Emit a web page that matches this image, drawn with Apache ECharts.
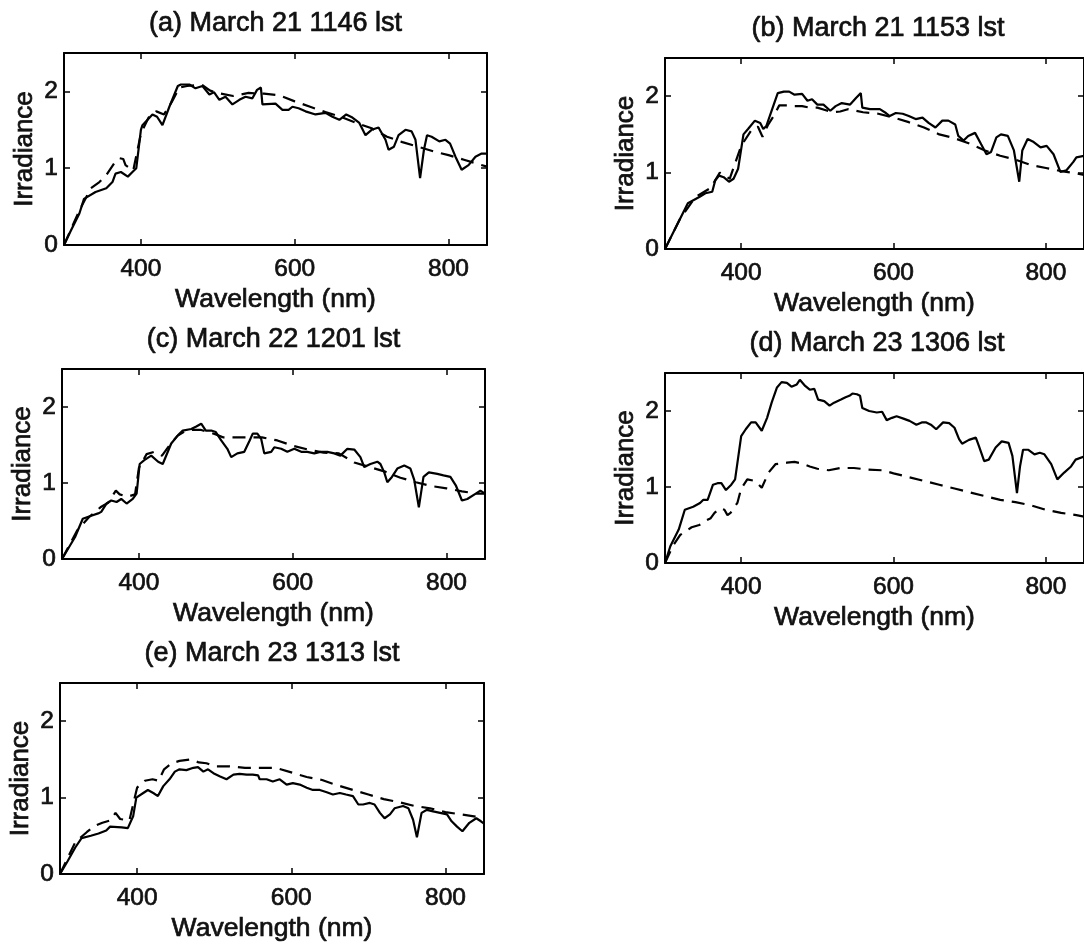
<!DOCTYPE html>
<html>
<head>
<meta charset="utf-8">
<script src="https://cdn.jsdelivr.net/npm/echarts@6/dist/echarts.min.js"></script>
<style>
html,body{margin:0;padding:0;background:#fff;}
#chart{width:1084px;height:946px;}
</style>
</head>
<body>
<div id="chart"></div>
<script>
// ---------- data ----------
const panelTitles = ['(a) March 21 1146 lst', '(b) March 21 1153 lst', '(c) March 22 1201 lst', '(d) March 23 1306 lst', '(e) March 23 1313 lst'];
const xTickValues = [400, 600, 800];
const yTickValues = [0, 1, 2];
const xAxisTitle = 'Wavelength (nm)';
const yAxisTitle = 'Irradiance';

// [wavelength nm, irradiance]
const solidA = [[300,0],[309,0.19],[320,0.41],[326,0.60],[341,0.69],[355,0.74],[363,0.82],[367,0.93],[374,0.95],[383,0.89],[389,0.95],[394,1.0],[400,1.50],[402,1.56],[415,1.70],[421,1.67],[428,1.56],[437,1.80],[448,2.07],[452,2.09],[463,2.09],[471,2.04],[480,2.07],[489,1.96],[495,1.99],[502,1.89],[510,1.93],[519,1.83],[528,1.89],[536,1.93],[545,1.91],[551,2.02],[556,2.05],[558,1.83],[575,1.84],[584,1.76],[592,1.76],[597,1.80],[605,1.78],[614,1.74],[627,1.70],[640,1.72],[649,1.67],[658,1.63],[667,1.70],[675,1.66],[684,1.59],[692,1.43],[700,1.50],[709,1.53],[718,1.37],[722,1.24],[729,1.28],[735,1.43],[744,1.50],[752,1.48],[757,1.37],[763,0.87],[768,1.24],[772,1.43],[778,1.41],[788,1.35],[796,1.37],[802,1.32],[809,1.15],[817,0.98],[826,1.04],[835,1.15],[843,1.19],[850,1.19]];
const dashA = [[300,0],[320,0.45],[335,0.74],[346,0.82],[355,0.91],[365,1.06],[372,1.13],[377,1.12],[380,1.04],[390,0.97],[400,1.45],[410,1.66],[420,1.74],[430,1.70],[440,1.86],[450,2.05],[460,2.07],[470,2.08],[480,2.08],[490,2.01],[500,1.98],[520,1.94],[540,1.98],[560,1.97],[580,1.95],[600,1.87],[620,1.80],[640,1.73],[660,1.67],[680,1.59],[700,1.52],[720,1.41],[740,1.34],[760,1.28],[780,1.22],[800,1.17],[820,1.11],[840,1.05],[850,1.02]];

const solidB = [[300,0],[319,0.38],[330,0.60],[345,0.68],[353,0.73],[362,0.75],[366,0.90],[371,0.96],[377,0.94],[384,0.88],[390,0.92],[396,1.05],[403,1.50],[409,1.57],[418,1.68],[425,1.65],[429,1.57],[433,1.61],[440,1.81],[448,2.04],[456,2.06],[463,2.06],[470,2.02],[480,2.03],[487,1.94],[493,1.96],[500,1.89],[508,1.89],[517,1.81],[524,1.87],[532,1.91],[543,1.89],[551,1.98],[557,2.04],[559,1.85],[569,1.83],[582,1.83],[590,1.78],[595,1.74],[603,1.78],[612,1.77],[620,1.74],[629,1.70],[638,1.72],[646,1.65],[655,1.59],[664,1.68],[672,1.68],[681,1.63],[685,1.48],[692,1.42],[698,1.48],[707,1.52],[715,1.37],[722,1.24],[728,1.27],[735,1.46],[741,1.50],[750,1.48],[758,1.29],[765,0.88],[769,1.29],[776,1.44],[784,1.40],[793,1.33],[801,1.35],[810,1.24],[819,1.01],[827,1.03],[836,1.14],[840,1.20],[850,1.22]];
const dashB = [[300,0],[320,0.40],[340,0.68],[360,0.80],[372,1.0],[385,0.92],[400,1.35],[415,1.58],[422,1.60],[428,1.47],[435,1.62],[442,1.73],[450,1.88],[460,1.88],[470,1.87],[480,1.87],[490,1.85],[500,1.85],[510,1.82],[520,1.79],[530,1.80],[540,1.83],[550,1.81],[560,1.79],[580,1.77],[600,1.72],[620,1.66],[640,1.59],[660,1.50],[680,1.45],[700,1.38],[720,1.29],[740,1.22],[760,1.17],[780,1.10],[800,1.06],[820,1.02],[840,0.99],[850,0.97]];

const solidC = [[300,0],[317,0.29],[327,0.53],[338,0.57],[347,0.60],[351,0.62],[358,0.73],[364,0.77],[371,0.75],[377,0.79],[384,0.73],[392,0.79],[397,0.86],[401,1.25],[407,1.30],[416,1.36],[425,1.28],[431,1.25],[442,1.52],[451,1.63],[457,1.69],[468,1.71],[474,1.74],[481,1.78],[487,1.69],[494,1.69],[500,1.67],[507,1.56],[515,1.45],[520,1.34],[528,1.39],[537,1.41],[544,1.56],[548,1.65],[554,1.65],[559,1.58],[563,1.39],[572,1.41],[576,1.47],[585,1.45],[593,1.41],[602,1.45],[611,1.41],[619,1.41],[628,1.39],[636,1.41],[645,1.41],[654,1.39],[662,1.36],[671,1.45],[680,1.44],[688,1.34],[693,1.21],[701,1.25],[710,1.28],[714,1.25],[719,1.14],[723,1.01],[729,1.08],[736,1.19],[745,1.23],[753,1.19],[758,1.04],[764,0.68],[770,1.08],[777,1.14],[788,1.12],[796,1.10],[805,1.08],[812,0.97],[820,0.77],[827,0.79],[838,0.86],[844,0.90],[850,0.86]];
const dashC = [[300,0],[320,0.38],[335,0.55],[350,0.68],[360,0.74],[370,0.90],[375,0.85],[385,0.82],[395,0.85],[400,1.20],[410,1.38],[420,1.41],[430,1.36],[440,1.50],[450,1.62],[460,1.68],[470,1.70],[480,1.70],[490,1.67],[500,1.64],[510,1.60],[520,1.60],[540,1.60],[560,1.60],[580,1.56],[600,1.49],[620,1.44],[640,1.40],[660,1.39],[680,1.27],[700,1.21],[720,1.15],[740,1.07],[760,1.01],[780,0.96],[800,0.93],[820,0.89],[840,0.86],[850,0.86]];

const solidD = [[300,0],[307,0.22],[318,0.44],[326,0.70],[337,0.74],[346,0.79],[350,0.83],[356,0.83],[363,1.03],[369,1.05],[374,1.05],[380,0.96],[387,1.03],[392,1.10],[400,1.67],[406,1.76],[413,1.85],[419,1.85],[427,1.74],[434,1.91],[440,2.11],[447,2.31],[453,2.38],[460,2.37],[466,2.32],[473,2.35],[477,2.41],[484,2.33],[490,2.28],[496,2.29],[501,2.15],[509,2.13],[516,2.07],[522,2.11],[531,2.15],[537,2.18],[542,2.20],[546,2.23],[552,2.22],[556,2.20],[559,2.04],[568,2.00],[578,1.98],[585,1.99],[591,1.88],[598,1.91],[604,1.93],[613,1.90],[621,1.87],[630,1.82],[637,1.85],[643,1.85],[649,1.82],[656,1.76],[665,1.85],[673,1.84],[680,1.78],[686,1.63],[690,1.57],[699,1.62],[708,1.65],[712,1.54],[719,1.34],[725,1.36],[734,1.52],[742,1.60],[751,1.58],[756,1.41],[762,0.92],[766,1.27],[770,1.49],[777,1.49],[785,1.43],[792,1.45],[798,1.43],[807,1.30],[815,1.10],[824,1.19],[833,1.27],[839,1.36],[850,1.40]];
const dashD = [[300,0],[310,0.22],[320,0.37],[335,0.47],[345,0.50],[352,0.55],[360,0.59],[365,0.66],[372,0.72],[378,0.70],[382,0.63],[386,0.66],[395,0.79],[400,0.98],[408,1.10],[418,1.08],[423,1.03],[427,0.99],[436,1.19],[445,1.30],[460,1.32],[470,1.33],[480,1.31],[490,1.27],[500,1.24],[515,1.22],[530,1.25],[548,1.25],[565,1.23],[585,1.22],[600,1.18],[620,1.13],[640,1.08],[660,1.03],[680,0.98],[700,0.93],[720,0.88],[740,0.83],[760,0.80],[780,0.76],[800,0.70],[820,0.66],[840,0.63],[850,0.61]];

const solidE = [[300,0],[310,0.17],[320,0.35],[328,0.47],[340,0.50],[350,0.53],[360,0.57],[365,0.62],[380,0.61],[388,0.60],[395,0.76],[399,1.00],[408,1.06],[414,1.10],[421,1.06],[427,1.02],[434,1.15],[442,1.24],[449,1.34],[455,1.37],[464,1.36],[473,1.39],[479,1.40],[486,1.34],[492,1.37],[499,1.32],[507,1.28],[516,1.24],[525,1.30],[533,1.31],[542,1.30],[550,1.30],[557,1.29],[559,1.24],[568,1.24],[576,1.21],[585,1.24],[594,1.17],[602,1.19],[611,1.17],[620,1.13],[628,1.10],[637,1.10],[646,1.07],[654,1.04],[663,1.06],[671,1.04],[680,1.02],[687,0.91],[693,0.91],[702,0.93],[708,0.91],[715,0.80],[721,0.73],[728,0.78],[734,0.86],[745,0.89],[752,0.86],[758,0.71],[763,0.48],[769,0.80],[776,0.84],[784,0.82],[793,0.80],[802,0.78],[808,0.69],[815,0.62],[822,0.56],[831,0.67],[840,0.73],[846,0.69],[850,0.66]];
const dashE = [[300,0],[320,0.42],[335,0.55],[345,0.63],[355,0.67],[365,0.70],[372,0.80],[378,0.72],[390,0.70],[400,1.13],[410,1.22],[420,1.24],[428,1.22],[435,1.37],[445,1.45],[455,1.48],[470,1.50],[480,1.46],[490,1.45],[500,1.41],[520,1.41],[540,1.39],[560,1.39],[580,1.39],[600,1.33],[620,1.27],[640,1.23],[660,1.16],[680,1.10],[700,1.04],[720,0.98],[740,0.94],[760,0.89],[780,0.86],[800,0.81],[820,0.78],[840,0.75],[850,0.73]];

const solidSeries = [solidA, solidB, solidC, solidD, solidE];
const dashSeries = [dashA, dashB, dashC, dashD, dashE];

// ---------- layout ----------
const grids = [
  {left: 64, top: 53, width: 423, height: 192},
  {left: 665, top: 58, width: 426, height: 191},
  {left: 62, top: 369, width: 423, height: 190},
  {left: 665, top: 373, width: 424, height: 190},
  {left: 60, top: 683, width: 424, height: 191}
];

const FONT = '"Liberation Sans", Arial, Helvetica, sans-serif';
const TXT = '#111';
const lineStyle = {color: '#000', width: 2};
const tickStyle = {color: '#000', width: 1.5};
function txt(size) {
  return {fontFamily: FONT, fontSize: size, fontWeight: 'normal', color: TXT, textBorderColor: TXT, textBorderWidth: 0.7};
}

const option = {
  backgroundColor: '#fff',
  animation: false,
  title: [],
  grid: [],
  xAxis: [],
  yAxis: [],
  series: []
};

grids.forEach((g, i) => {
  option.grid.push(Object.assign({show: false}, g));
  option.title.push({
    text: panelTitles[i],
    left: g.left + g.width / 2,
    top: g.top - 43,
    textAlign: 'center',
    padding: 0,
    textStyle: txt(27)
  });
  const xBase = {
    type: 'value', gridIndex: i, min: 300, max: 850,
    axisLine: {show: true, onZero: false, lineStyle: lineStyle},
    axisTick: {show: true, inside: true, length: 6, customValues: xTickValues, lineStyle: tickStyle},
    splitLine: {show: false}
  };
  option.xAxis.push(Object.assign({}, xBase, {
    position: 'bottom',
    axisLabel: Object.assign({show: true, customValues: xTickValues, margin: 12}, txt(24.5)),
    name: xAxisTitle, nameLocation: 'middle', nameGap: 41,
    nameTextStyle: txt(26.5)
  }));
  option.xAxis.push(Object.assign({}, xBase, {position: 'top', axisLabel: {show: false}}));
  const yBase = {
    type: 'value', gridIndex: i, min: 0, max: 2.5,
    axisLine: {show: true, onZero: false, lineStyle: lineStyle},
    axisTick: {show: true, inside: true, length: 6, customValues: yTickValues, lineStyle: tickStyle},
    splitLine: {show: false}
  };
  option.yAxis.push(Object.assign({}, yBase, {
    position: 'left',
    axisLabel: Object.assign({show: true, customValues: yTickValues, margin: 6}, txt(24.5)),
    name: yAxisTitle, nameLocation: 'middle', nameGap: 26,
    nameTextStyle: txt(26)
  }));
  option.yAxis.push(Object.assign({}, yBase, {position: 'right', axisLabel: {show: false}}));

  option.series.push({
    type: 'line', xAxisIndex: 2 * i, yAxisIndex: 2 * i, data: solidSeries[i],
    symbol: 'none', smooth: false, clip: true,
    lineStyle: {color: '#000', width: 2.2, type: 'solid'}
  });
  option.series.push({
    type: 'line', xAxisIndex: 2 * i, yAxisIndex: 2 * i, data: dashSeries[i],
    symbol: 'none', smooth: false, clip: true,
    lineStyle: {color: '#000', width: 2.2, type: [13, 8]}
  });
});

const chart = echarts.init(document.getElementById('chart'), null, {renderer: 'canvas'});
chart.setOption(option);
</script>
</body>
</html>
